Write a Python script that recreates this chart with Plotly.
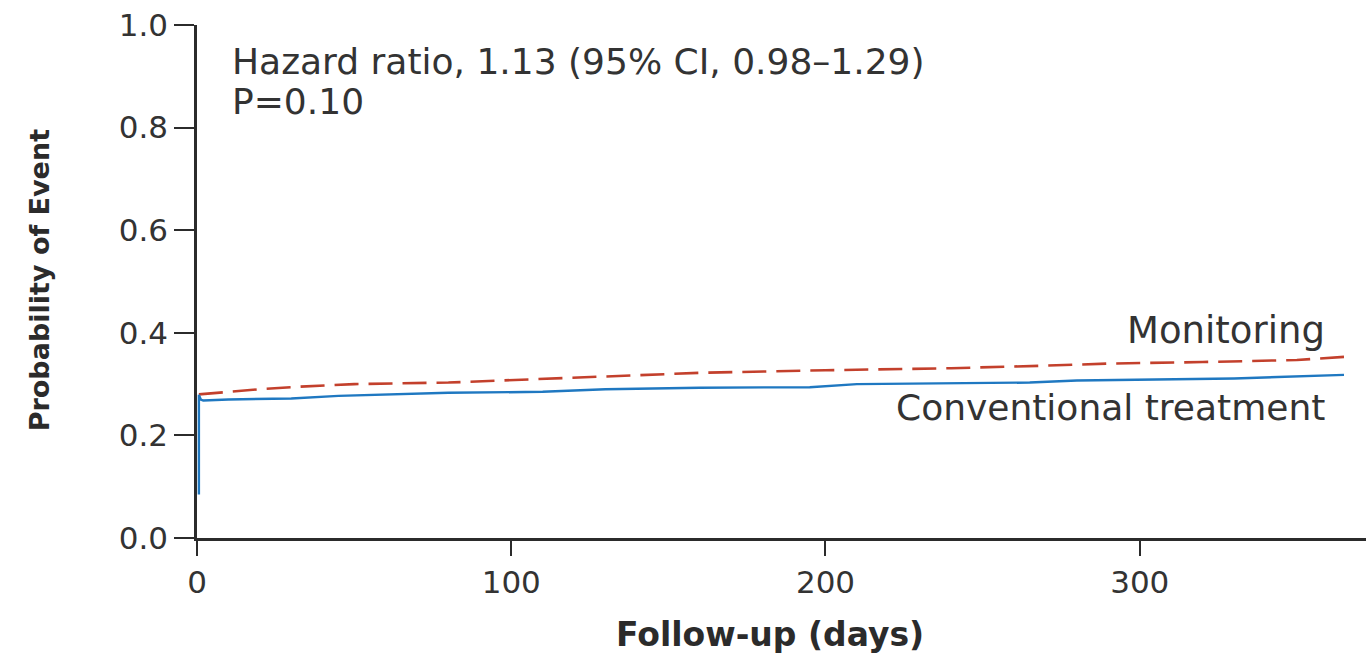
import plotly.graph_objects as go

# Data (days, cumulative probability)
conv_days = [0.6, 0.6, 1.2, 2, 10, 30, 45, 60, 80, 110, 130, 160, 195, 210, 240, 265, 280, 300, 330, 365]
conv_prob = [0.085, 0.279, 0.270, 0.268, 0.270, 0.272, 0.277, 0.279, 0.283, 0.285, 0.290, 0.293, 0.294, 0.300, 0.302, 0.303, 0.307, 0.309, 0.311, 0.318]

mon_days = [0.6, 10, 20, 33, 50, 80, 110, 140, 160, 200, 240, 270, 290, 320, 350, 365]
mon_prob = [0.280, 0.285, 0.290, 0.295, 0.300, 0.303, 0.310, 0.317, 0.322, 0.327, 0.331, 0.336, 0.340, 0.343, 0.347, 0.353]

x_ticks = [0, 100, 200, 300]
y_ticks = [0.0, 0.2, 0.4, 0.6, 0.8, 1.0]
y_ticklabels = ["0.0", "0.2", "0.4", "0.6", "0.8", "1.0"]

FONT = "DejaVu Sans, sans-serif"
TITLE_FONT = "DejaVu Sans, sans-serif"
INK = "#2b2b2b"
TXT = "#333333"

fig = go.Figure()
fig.add_trace(go.Scatter(x=mon_days, y=mon_prob, mode="lines", name="Monitoring",
                         line=dict(color="#c3402c", width=2.6, dash="24px,10px")))
fig.add_trace(go.Scatter(x=conv_days, y=conv_prob, mode="lines", name="Conventional treatment",
                         line=dict(color="#1f78c1", width=2.4)))

fig.update_layout(
    width=1366, height=655,
    margin=dict(l=197, r=0, t=25, b=117),
    paper_bgcolor="white", plot_bgcolor="white",
    showlegend=False,
    font=dict(family=FONT, size=31, color=TXT),
    xaxis=dict(range=[0, 372], tickvals=x_ticks, ticks="outside", ticklen=15, tickwidth=2,
               tickcolor=INK, showline=True, linecolor=INK, linewidth=2.5, showgrid=False,
               zeroline=False, tickfont=dict(family=FONT, size=31, color=TXT)),
    yaxis=dict(range=[0, 1.0], tickvals=y_ticks, ticktext=y_ticklabels, ticks="outside",
               ticklen=20, tickwidth=2, tickcolor=INK, showline=True, linecolor=INK,
               linewidth=2.5, showgrid=False, zeroline=False,
               tickfont=dict(family=FONT, size=31, color=TXT)),
)

ANN = dict(family=FONT, size=36, color=TXT)
fig.add_annotation(x=10.5, y=0.928, xref="x", yref="y", xanchor="left", yanchor="middle",
                   text="Hazard ratio, 1.13 (95% CI, 0.98\u20131.29)", showarrow=False, font=ANN)
fig.add_annotation(x=10.5, y=0.85, xref="x", yref="y", xanchor="left", yanchor="middle",
                   text="P=0.10", showarrow=False, font=ANN)
fig.add_annotation(x=359.5, y=0.405, xref="x", yref="y", xanchor="right", yanchor="middle",
                   text="Monitoring", showarrow=False, font=dict(family=FONT, size=37, color=TXT))
fig.add_annotation(x=359.5, y=0.255, xref="x", yref="y", xanchor="right", yanchor="middle",
                   text="Conventional treatment", showarrow=False, font=ANN)

fig.add_annotation(x=-0.134, y=0.503, xref="paper", yref="paper", xanchor="center", yanchor="middle",
                   text="<b>Probability of Event</b>", textangle=-90, showarrow=False,
                   font=dict(family=TITLE_FONT, size=27, color=INK))
fig.add_annotation(x=0.490, y=-0.189, xref="paper", yref="paper", xanchor="center", yanchor="middle",
                   text="<b>Follow-up (days)</b>", showarrow=False,
                   font=dict(family=TITLE_FONT, size=33, color=INK))

fig.write_html("out.html")
